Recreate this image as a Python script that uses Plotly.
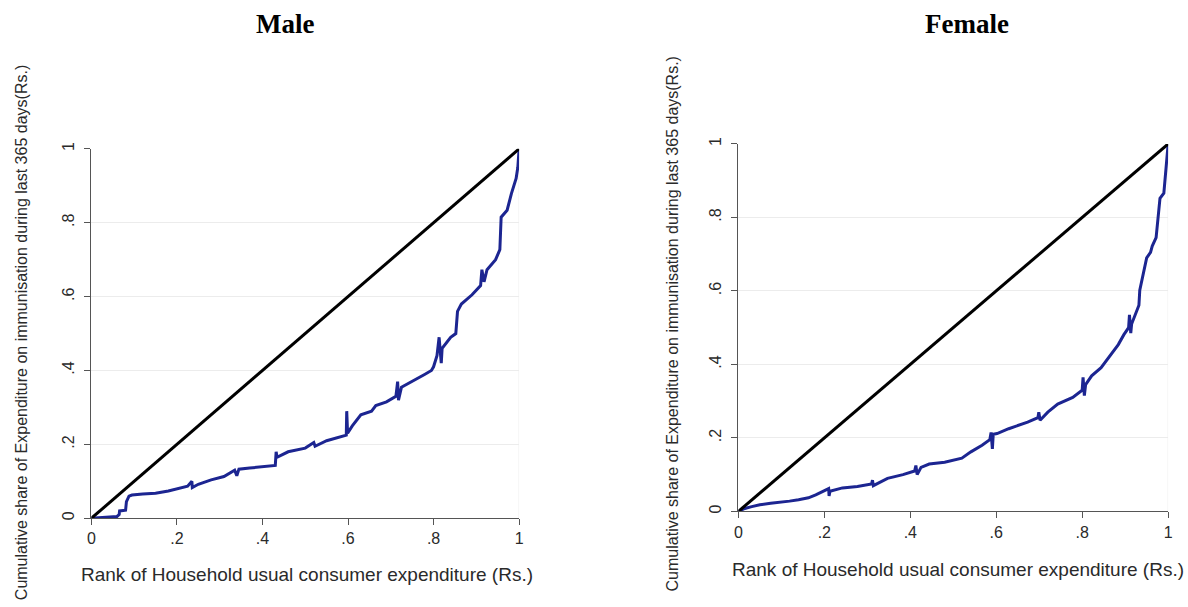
import plotly.graph_objects as go

# Concentration curves: cumulative share of immunisation expenditure
# against household rank by usual consumer expenditure.
tick_vals = [0, 0.2, 0.4, 0.6, 0.8, 1]
tick_text = ["0", ".2", ".4", ".6", ".8", "1"]

equality_x = [0, 1]
equality_y = [0, 1]

male_x = [0, 0.03, 0.06, 0.065, 0.066, 0.08, 0.082, 0.088, 0.095, 0.12, 0.15, 0.18,
          0.2, 0.225, 0.235, 0.236, 0.25, 0.28, 0.31, 0.335, 0.34, 0.345, 0.37, 0.4,
          0.43, 0.432, 0.434, 0.46, 0.5, 0.52, 0.523, 0.55, 0.58, 0.596, 0.597, 0.599,
          0.61, 0.63, 0.655, 0.665, 0.69, 0.712, 0.716, 0.718, 0.725, 0.75, 0.78,
          0.795, 0.8, 0.808, 0.813, 0.818, 0.82, 0.84, 0.852, 0.856, 0.865, 0.89,
          0.91, 0.913, 0.918, 0.925, 0.945, 0.955, 0.958, 0.972, 0.982, 0.993, 0.997, 1.0]
male_y = [0, 0.002, 0.005, 0.01, 0.02, 0.022, 0.045, 0.06, 0.063, 0.066, 0.068, 0.074,
          0.08, 0.087, 0.1, 0.083, 0.092, 0.104, 0.113, 0.13, 0.115, 0.133, 0.136, 0.14,
          0.143, 0.18, 0.165, 0.18, 0.19, 0.205, 0.195, 0.21, 0.22, 0.225, 0.29, 0.23,
          0.25, 0.28, 0.29, 0.305, 0.315, 0.33, 0.37, 0.32, 0.355, 0.37, 0.39,
          0.4, 0.41, 0.44, 0.49, 0.42, 0.46, 0.49, 0.5, 0.56, 0.58, 0.605,
          0.63, 0.673, 0.64, 0.673, 0.70, 0.727, 0.815, 0.834, 0.879, 0.92, 0.95, 1.0]

female_x = [0, 0.015, 0.031, 0.05, 0.075, 0.1, 0.119, 0.14, 0.163, 0.18, 0.198, 0.21,
            0.211, 0.213, 0.242, 0.277, 0.31, 0.312, 0.314, 0.347, 0.383, 0.41, 0.413,
            0.416, 0.425, 0.444, 0.48, 0.506, 0.52, 0.541, 0.567, 0.585, 0.588, 0.591,
            0.593, 0.602, 0.629, 0.673, 0.697, 0.699, 0.702, 0.72, 0.743, 0.778, 0.8,
            0.802, 0.805, 0.808, 0.822, 0.844, 0.866, 0.884, 0.897, 0.908, 0.91, 0.913,
            0.915, 0.923, 0.932, 0.934, 0.937, 0.944, 0.95, 0.959, 0.963, 0.972, 0.976,
            0.981, 0.99, 0.994, 0.998, 1.0]
female_y = [0, 0.008, 0.013, 0.018, 0.022, 0.025, 0.028, 0.032, 0.037, 0.045, 0.055, 0.062,
            0.042, 0.055, 0.064, 0.068, 0.075, 0.085, 0.07, 0.09, 0.1, 0.11, 0.125,
            0.1, 0.12, 0.129, 0.134, 0.14, 0.145, 0.162, 0.18, 0.195, 0.215, 0.17,
            0.21, 0.212, 0.225, 0.243, 0.255, 0.27, 0.248, 0.27, 0.292, 0.31, 0.33,
            0.365, 0.315, 0.345, 0.369, 0.391, 0.427, 0.454, 0.481, 0.5, 0.535, 0.485,
            0.51, 0.535, 0.561, 0.602, 0.62, 0.655, 0.69, 0.705, 0.722, 0.745, 0.80,
            0.852, 0.866, 0.924, 0.96, 1.0]

panels = [
    {"title": "Male", "x": male_x, "y": male_y, "xa": "x", "ya": "y",
     "xdom": [0.0741, 0.4369], "ydom": [0.145, 0.7628], "title_x": 0.238,
     "ytitle_x": 0.0143, "ytitle_y": 0.456, "xtitle_x": 0.2572, "xtitle_y": 0.051},
    {"title": "Female", "x": female_x, "y": female_y, "xa": "x2", "ya": "y2",
     "xdom": [0.6229, 0.9874], "ydom": [0.1565, 0.771], "title_x": 0.817,
     "ytitle_x": 0.567, "ytitle_y": 0.47, "xtitle_x": 0.8088, "xtitle_y": 0.059},
]

BLUE = "#1c2591"
AXIS = "#555555"
GRID = "#ececec"
TEXT = "#2a2a2a"

fig = go.Figure()
annotations = []
shapes = []
layout = {}

for i, p in enumerate(panels):
    fig.add_trace(go.Scatter(x=p["x"], y=p["y"], mode="lines", xaxis=p["xa"], yaxis=p["ya"],
                             line=dict(color=BLUE, width=3), showlegend=False,
                             hoverinfo="skip"))
    fig.add_trace(go.Scatter(x=equality_x, y=equality_y, mode="lines", xaxis=p["xa"],
                             yaxis=p["ya"], line=dict(color="black", width=3),
                             showlegend=False, hoverinfo="skip"))
    suffix = "" if i == 0 else "2"
    layout["xaxis" + suffix] = dict(
        domain=p["xdom"], range=[0, 1], anchor=p["ya"], tickvals=tick_vals, ticktext=tick_text,
        showgrid=False, zeroline=False, showline=True, linecolor=AXIS, linewidth=1,
        ticks="outside", ticklen=6, tickcolor=AXIS,
        tickfont=dict(family="Liberation Sans, Arial", size=16, color=TEXT),
    )
    layout["yaxis" + suffix] = dict(
        domain=p["ydom"], range=[0, 1], anchor=p["xa"], tickvals=tick_vals, ticktext=tick_text,
        showgrid=True, gridcolor=GRID, gridwidth=1, zeroline=False, showline=True,
        linecolor=AXIS, linewidth=1, ticks="outside", ticklen=6, tickcolor=AXIS, tickangle=-90,
        ticklabelstandoff=4,
        tickfont=dict(family="Liberation Sans, Arial", size=16, color=TEXT),
    )
    # right-hand edge of the plot region
    shapes.append(dict(type="line", xref=p["xa"], yref=p["ya"] + " domain", x0=1, x1=1,
                       y0=0, y1=1, line=dict(color=GRID, width=1), layer="below"))
    annotations.append(dict(text="<b>" + p["title"] + "</b>", x=p["title_x"], y=0.972,
                            xref="paper", yref="paper", showarrow=False,
                            xanchor="center", yanchor="middle",
                            font=dict(family="Liberation Serif, Times New Roman", size=27,
                                      color="black")))
    annotations.append(dict(
        text="Cumulative share of Expenditure on immunisation during last 365 days(Rs.)",
        x=p["ytitle_x"], y=p["ytitle_y"], xref="paper", yref="paper", showarrow=False,
        xanchor="center", yanchor="middle",
        textangle=-90, font=dict(family="Liberation Sans, Arial", size=16, color=TEXT)))
    annotations.append(dict(
        text="Rank of Household usual consumer expenditure (Rs.)",
        x=p["xtitle_x"], y=p["xtitle_y"], xref="paper", yref="paper", showarrow=False,
        xanchor="center", yanchor="middle",
        font=dict(family="Liberation Sans, Arial", size=19, color=TEXT)))

fig.update_layout(
    width=1188, height=607, margin=dict(l=0, r=0, t=0, b=0),
    paper_bgcolor="white", plot_bgcolor="white",
    annotations=annotations, shapes=shapes, **layout,
)

fig.write_html("out.html")
